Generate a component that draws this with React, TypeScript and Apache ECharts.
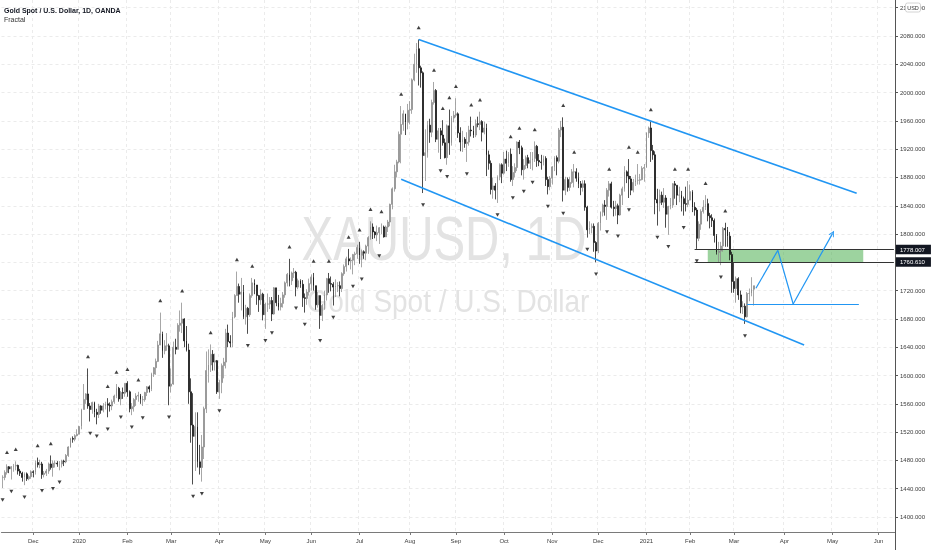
import React, { useEffect, useRef } from "react";
import * as echarts from "echarts";

// ---------- calendar (category axis) ----------
const FIRST_SESSION = [2019, 10, 12]; // 2019-11-12 (UTC y, m0, d)
const SESSION_COUNT = 408; // history + empty future sessions to ~mid June 2021
const HOLIDAYS = ["2019-12-25", "2020-01-01", "2020-04-10", "2020-12-25", "2021-01-01"];
const MONTHS = ["Jan", "Feb", "Mar", "Apr", "May", "Jun", "Jul", "Aug", "Sep", "Oct", "Nov", "Dec"];

// ---------- daily candles (open = previous close) ----------
const firstOpen = 1456;
const closes = [
  // Nov 2019
  1456, 1463, 1471, 1468, 1471, 1472, 1473, 1465, 1462, 1456, 1461, 1454, 1457, 1464,
  // Dec 2019
  1463, 1477, 1474, 1475, 1460, 1462, 1465, 1475, 1470, 1476, 1476, 1475, 1475, 1479, 1478, 1487, 1499, 1511, 1510, 1515, 1517,
  // Jan 2020
  1528, 1552, 1566, 1574, 1557, 1552, 1562, 1548, 1545, 1557, 1551, 1557, 1560, 1558, 1557, 1563, 1571, 1582, 1567, 1576, 1575, 1589,
  // Feb 2020
  1577, 1553, 1556, 1566, 1571, 1572, 1566, 1566, 1576, 1584, 1581, 1602, 1611, 1620, 1643, 1659, 1635, 1642, 1642, 1585,
  // Mar 2020
  1588, 1640, 1637, 1671, 1674, 1680, 1649, 1636, 1577, 1530, 1514, 1528, 1478, 1470, 1499, 1553, 1607, 1615, 1630, 1619, 1621, 1577,
  // Apr 2020
  1590, 1614, 1619, 1660, 1648, 1646, 1683, 1713, 1726, 1715, 1718, 1683, 1695, 1686, 1713, 1731, 1728, 1713, 1707, 1715, 1686,
  // May 2020
  1701, 1701, 1706, 1687, 1724, 1703, 1697, 1702, 1714, 1731, 1743, 1734, 1745, 1746, 1725, 1734, 1729, 1710, 1709, 1718, 1730,
  // Jun 2020
  1739, 1727, 1700, 1713, 1685, 1699, 1714, 1737, 1730, 1729, 1725, 1727, 1727, 1723, 1744, 1754, 1765, 1762, 1763, 1771, 1772, 1781,
  // Jul 2020
  1770, 1775, 1773, 1783, 1795, 1810, 1803, 1799, 1802, 1809, 1810, 1796, 1810, 1817, 1842, 1864, 1888, 1902, 1941, 1955, 1970, 1958, 1975,
  // Aug 2020
  1976, 2018, 2040, 2062, 2035, 2028, 1911, 1915, 1954, 1944, 1986, 2003, 1934, 1946, 1940, 1929, 1908, 1953, 1929, 1964, 1968,
  // Sep 2020
  1970, 1943, 1930, 1934, 1928, 1930, 1947, 1946, 1940, 1956, 1955, 1959, 1944, 1950, 1912, 1900, 1863, 1868, 1862, 1881, 1898, 1886,
  // Oct 2020
  1906, 1900, 1913, 1877, 1887, 1894, 1930, 1922, 1891, 1897, 1908, 1900, 1904, 1907, 1924, 1904, 1902, 1901, 1907, 1877, 1867, 1879,
  // Nov 2020
  1895, 1908, 1903, 1947, 1951, 1862, 1877, 1866, 1873, 1888, 1888, 1879, 1871, 1866, 1871, 1838, 1806, 1809, 1811, 1788, 1776,
  // Dec 2020
  1815, 1831, 1841, 1839, 1862, 1871, 1838, 1836, 1840, 1827, 1855, 1864, 1888, 1882, 1878, 1862, 1873, 1876, 1876, 1877, 1893, 1894,
  // Jan 2021
  1943, 1950, 1918, 1912, 1849, 1844, 1855, 1845, 1851, 1828, 1839, 1841, 1871, 1869, 1855, 1855, 1850, 1843, 1842, 1848,
  // Feb 2021
  1860, 1838, 1834, 1794, 1814, 1832, 1838, 1843, 1826, 1823, 1819, 1798, 1774, 1776, 1783, 1808, 1806, 1797, 1771, 1733,
  // Mar 2021
  1723, 1737, 1714, 1697, 1698, 1683, 1716, 1716, 1722, 1726.97,
];
const highs = [
  1459, 1466, 1474.5, 1472, 1472, 1475, 1478.7, 1474, 1468, 1464, 1463, 1463, 1459, 1466,
  1466, 1480, 1484, 1481, 1478, 1465, 1468, 1477, 1487, 1480, 1480, 1479, 1479, 1481, 1481, 1489, 1500, 1512, 1514, 1517, 1524,
  1529, 1553, 1588, 1575, 1610, 1561, 1563, 1563, 1553, 1560, 1558, 1561, 1563, 1568, 1562, 1566, 1573, 1588, 1584, 1578, 1583, 1589,
  1592, 1579, 1561, 1568, 1575, 1577, 1574, 1571, 1577, 1585, 1586, 1604, 1612, 1624, 1649, 1689, 1662, 1650, 1660, 1645,
  1610, 1648, 1652, 1674, 1692, 1703, 1681, 1670, 1645, 1596, 1575, 1548, 1548, 1502, 1516, 1556, 1634, 1637, 1644, 1636, 1631, 1622,
  1594, 1617, 1625, 1666, 1672, 1657, 1690, 1715, 1747, 1730, 1738, 1728, 1700, 1697, 1716, 1738, 1736, 1728, 1714, 1722, 1717,
  1703, 1716, 1711, 1711, 1725, 1722, 1714, 1710, 1718, 1733, 1745, 1765, 1747, 1752, 1748, 1737, 1736, 1735, 1716, 1722, 1737,
  1743, 1745, 1727, 1718, 1713, 1701, 1720, 1738, 1745, 1740, 1732, 1736, 1732, 1733, 1746, 1757, 1768, 1779, 1767, 1772, 1775, 1785,
  1789, 1778, 1777, 1785, 1797, 1818, 1815, 1804, 1812, 1810, 1815, 1812, 1812, 1820, 1843, 1866, 1898, 1905, 1945, 1981, 1975, 1970, 1984,
  1988, 2020, 2055, 2070, 2075, 2038, 2030, 1948, 1960, 1963, 1990, 2015, 2005, 1950, 1950, 1961, 1935, 1955, 1976, 1967, 1974,
  1992, 1972, 1951, 1946, 1937, 1944, 1953, 1966, 1953, 1962, 1966, 1973, 1961, 1959, 1956, 1918, 1904, 1880, 1872, 1883, 1900, 1900,
  1916, 1918, 1916, 1921, 1896, 1900, 1931, 1933, 1925, 1906, 1911, 1912, 1916, 1916, 1931, 1926, 1913, 1912, 1911, 1910, 1881, 1882,
  1896, 1910, 1911, 1950, 1960, 1965, 1881, 1880, 1881, 1892, 1899, 1893, 1887, 1875, 1876, 1876, 1840, 1818, 1815, 1815, 1790,
  1817, 1832, 1843, 1848, 1865, 1875, 1874, 1847, 1847, 1843, 1857, 1867, 1896, 1890, 1906, 1882, 1878, 1884, 1899, 1885, 1896, 1899,
  1944, 1952, 1959, 1926, 1917, 1864, 1863, 1860, 1865, 1855, 1840, 1851, 1872, 1875, 1869, 1867, 1861, 1853, 1867, 1875,
  1870, 1862, 1845, 1837, 1818, 1835, 1848, 1855, 1850, 1830, 1828, 1822, 1800, 1789, 1789, 1810, 1816, 1810, 1803, 1775,
  1760, 1740, 1739, 1720, 1705, 1702, 1718, 1723, 1739, 1727,
];
const lows = [
  1441, 1452, 1460, 1462, 1453, 1464, 1466, 1460, 1458, 1450, 1445, 1451, 1452, 1454,
  1456, 1460, 1470, 1469, 1454, 1456, 1458, 1461, 1467, 1457, 1470, 1471, 1466, 1470, 1472, 1476, 1485, 1498, 1505, 1507, 1514,
  1517, 1524, 1552, 1560, 1553, 1535, 1546, 1541, 1531, 1540, 1546, 1548, 1552, 1541, 1549, 1551, 1560, 1568, 1563, 1558, 1567, 1570,
  1570, 1548, 1544, 1549, 1557, 1563, 1560, 1557, 1563, 1571, 1576, 1578, 1598, 1601, 1619, 1644, 1625, 1630, 1635, 1558,
  1576, 1587, 1630, 1637, 1662, 1660, 1640, 1634, 1560, 1505, 1446, 1465, 1470, 1460, 1450, 1482, 1547, 1590, 1605, 1607, 1607, 1574,
  1567, 1575, 1596, 1610, 1640, 1640, 1640, 1681, 1713, 1703, 1692, 1680, 1672, 1659, 1683, 1710, 1715, 1700, 1690, 1700, 1678,
  1666, 1690, 1694, 1677, 1686, 1698, 1692, 1692, 1696, 1710, 1726, 1726, 1728, 1738, 1712, 1722, 1724, 1697, 1689, 1700, 1713,
  1720, 1720, 1693, 1696, 1666, 1677, 1693, 1706, 1717, 1719, 1699, 1711, 1718, 1712, 1718, 1741, 1747, 1756, 1750, 1743, 1756, 1765,
  1758, 1753, 1765, 1763, 1772, 1792, 1793, 1794, 1790, 1786, 1800, 1795, 1796, 1803, 1811, 1835, 1860, 1880, 1900, 1900, 1946, 1940, 1948,
  1955, 1970, 2016, 2028, 2010, 2007, 1858, 1875, 1908, 1929, 1937, 1983, 1930, 1915, 1906, 1925, 1907, 1898, 1912, 1925, 1958,
  1965, 1936, 1917, 1916, 1922, 1902, 1925, 1938, 1936, 1937, 1951, 1947, 1931, 1941, 1882, 1891, 1856, 1850, 1849, 1844, 1876, 1872,
  1884, 1889, 1895, 1874, 1868, 1880, 1889, 1913, 1883, 1877, 1892, 1893, 1892, 1890, 1902, 1895, 1896, 1891, 1897, 1868, 1856, 1862,
  1870, 1889, 1883, 1900, 1937, 1846, 1855, 1860, 1861, 1871, 1866, 1874, 1865, 1855, 1860, 1833, 1795, 1800, 1801, 1775, 1760,
  1773, 1805, 1825, 1826, 1820, 1853, 1836, 1825, 1826, 1814, 1826, 1841, 1860, 1872, 1851, 1855, 1859, 1868, 1870, 1870, 1876, 1874,
  1895, 1936, 1902, 1905, 1828, 1812, 1832, 1841, 1837, 1809, 1799, 1835, 1837, 1850, 1841, 1845, 1832, 1826, 1832, 1838,
  1848, 1831, 1826, 1779, 1790, 1806, 1829, 1834, 1818, 1808, 1810, 1788, 1771, 1760, 1756, 1775, 1782, 1782, 1763, 1717,
  1717, 1703, 1707, 1688, 1687, 1673, 1682, 1705, 1712, 1699,
];

// ---------- Williams fractal marks (bar indices) ----------
const upFractals = [2, 6, 16, 22, 39, 48, 52, 57, 62, 72, 82, 95, 107, 114, 131, 142, 149, 158, 163, 168, 173, 182, 190, 197, 201, 204, 207, 214, 218, 232, 236, 243, 256, 261, 277, 286, 290, 296, 307, 313, 321, 330];
const downFractals = [0, 4, 10, 18, 23, 26, 40, 43, 48, 54, 59, 64, 76, 87, 91, 99, 112, 120, 123, 134, 138, 145, 151, 160, 164, 172, 192, 200, 203, 212, 226, 233, 238, 242, 249, 256, 267, 271, 276, 281, 286, 299, 304, 311, 317, 328, 339];

// ---------- price axis ----------
const priceTicks = [1400, 1440, 1480, 1520, 1560, 1600, 1640, 1680, 1720, 1760, 1800, 1840, 1880, 1920, 1960, 2000, 2040, 2080, 2120];
const priceMin = 1378.8;
const priceMax = 2130.9;

// ---------- drawings [barIndex, price] ----------
const channelUpper = [[190, 2075], [390, 1857.6]];
const channelLower = [[182, 1877.4], [366, 1643.2]];
const zoneLevels = [1778.007, 1760.61];
const zoneBars = [322, 393];
const levelStartBar = 316;
const levelEndBar = 407;
const lastPrice = 1726.965;
const projectionPath = [[344, 1723.3], [354, 1777], [361, 1701.1], [379, 1801]];
const supportLine = [[340, 1701.1], [391, 1701.1]];

const FONT = "'Liberation Sans', Arial, sans-serif";
const BLUE = "#2196f3";
const ARROW = "path://M0,10 L5,0 L10,10 L8.4,10 L5,3.2 L1.6,10 Z";

export default function App() {
  const ref = useRef<HTMLDivElement>(null);

  useEffect(() => {
    if (!ref.current) return;
    const chart = echarts.init(ref.current, null, { renderer: "svg" });

    const sessions: string[] = [];
    const d = new Date(Date.UTC(FIRST_SESSION[0], FIRST_SESSION[1], FIRST_SESSION[2]));
    while (sessions.length < SESSION_COUNT) {
      const wd = d.getUTCDay();
      const iso = d.toISOString().slice(0, 10);
      if (wd !== 0 && wd !== 6 && HOLIDAYS.indexOf(iso) < 0) sessions.push(iso);
      d.setUTCDate(d.getUTCDate() + 1);
    }
    const monthStart = sessions.map((s, i) => i > 0 && s.slice(5, 7) !== sessions[i - 1].slice(5, 7));
    const isMonthStart = (i: number) => !!monthStart[i];

    const candles = closes.map((c, i) => {
      const o = i === 0 ? firstOpen : closes[i - 1];
      return [o, c, Math.min(lows[i], o, c), Math.max(highs[i], o, c)];
    });

    const projStyle = { color: BLUE, width: 1.2, type: "solid" };
    const chanStyle = { color: BLUE, width: 1.6, type: "solid" };
    const levelStyle = { color: "#333", width: 1, type: "solid" };
    const priceTag = (text: string) => ({
      show: true,
      position: "end",
      distance: 2,
      formatter: text,
      color: "#fff",
      backgroundColor: "#131722",
      padding: [2, 6, 1.5, 4],
      fontSize: 6,
      fontFamily: FONT,
    });

    const markLines: any[] = [
      [{ coord: channelUpper[0], lineStyle: chanStyle }, { coord: channelUpper[1] }],
      [{ coord: channelLower[0], lineStyle: chanStyle }, { coord: channelLower[1] }],
      [
        { coord: [levelStartBar, zoneLevels[0]], lineStyle: levelStyle, label: priceTag(zoneLevels[0].toFixed(3)) },
        { coord: [levelEndBar, zoneLevels[0]] },
      ],
      [
        { coord: [levelStartBar, zoneLevels[1]], lineStyle: levelStyle, label: priceTag(zoneLevels[1].toFixed(3)) },
        { coord: [levelEndBar, zoneLevels[1]] },
      ],
      [
        {
          coord: [343, lastPrice],
          lineStyle: { opacity: 0 },
          label: {
            show: true,
            position: "end",
            distance: 2,
            formatter: lastPrice.toFixed(3),
            color: "#333",
            backgroundColor: "#fff",
            padding: [1.5, 3, 1, 4],
            fontSize: 6,
            fontFamily: FONT,
          },
        },
        { coord: [levelEndBar, lastPrice] },
      ],
      [{ coord: projectionPath[0], lineStyle: projStyle }, { coord: projectionPath[1] }],
      [{ coord: projectionPath[1], lineStyle: projStyle }, { coord: projectionPath[2] }],
      [
        { coord: projectionPath[2], lineStyle: projStyle },
        { coord: projectionPath[3], symbol: ARROW, symbolSize: [6, 6] },
      ],
      [{ coord: supportLine[0], lineStyle: projStyle }, { coord: supportLine[1] }],
    ];

    const option: any = {
      animation: false,
      grid: { left: 1.5, right: 37, top: 0, bottom: 18, containLabel: false, outerBoundsMode: "none" },
      xAxis: {
        type: "category",
        data: sessions,
        boundaryGap: true,
        axisLine: { lineStyle: { color: "#7a7a7a", width: 1.2 } },
        axisTick: { show: true, interval: isMonthStart, alignWithLabel: true, length: 3, lineStyle: { color: "#7a7a7a" } },
        axisLabel: {
          interval: isMonthStart,
          margin: 6,
          fontSize: 6,
          fontFamily: FONT,
          color: "#3c3c3c",
          formatter: (v: string) => {
            const m = parseInt(v.slice(5, 7), 10) - 1;
            return m === 0 ? v.slice(0, 4) : MONTHS[m];
          },
        },
        splitLine: { show: true, interval: isMonthStart, lineStyle: { color: "#ebebeb", type: [3, 3] } },
      },
      yAxis: {
        type: "value",
        position: "right",
        min: priceMin,
        max: priceMax,
        axisLine: { show: true, lineStyle: { color: "#555", width: 1 } },
        axisTick: { show: true, length: 3, customValues: priceTicks, lineStyle: { color: "#555" } },
        axisLabel: {
          customValues: priceTicks,
          margin: 5,
          fontSize: 6,
          fontFamily: FONT,
          color: "#3c3c3c",
          formatter: (v: number) => v.toFixed(3),
        },
        splitLine: { show: true, lineStyle: { color: "#ebebeb", type: [3, 3] } },
      },
      graphic: [
        {
          type: "text", x: 444, y: 238, scaleX: 0.754, z: 1, silent: true,
          style: { text: "XAUUSD, 1D", fontSize: 63, fontFamily: FONT, fill: "#e3e3e3", align: "center", verticalAlign: "middle" },
        },
        {
          type: "text", x: 448, y: 301, scaleX: 0.874, z: 1, silent: true,
          style: { text: "Gold Spot / U.S. Dollar", fontSize: 32, fontFamily: FONT, fill: "#e3e3e3", align: "center", verticalAlign: "middle" },
        },
        {
          type: "text", x: 4, y: 10.8, z: 20,
          style: { text: "Gold Spot / U.S. Dollar, 1D, OANDA", fontSize: 7, fontWeight: "bold", fontFamily: FONT, fill: "#131722", verticalAlign: "middle" },
        },
        {
          type: "text", x: 4, y: 19.8, z: 20,
          style: { text: "Fractal", fontSize: 7, fontFamily: FONT, fill: "#333", verticalAlign: "middle" },
        },
        {
          type: "rect", z: 50, shape: { x: 905.5, y: 3, width: 15, height: 9, r: 2 },
          style: { fill: "#fff", stroke: "#c9c9c9", lineWidth: 0.8 },
        },
        {
          type: "text", x: 913, y: 7.6, z: 51,
          style: { text: "USD", fontSize: 5.5, fontFamily: FONT, fill: "#333", align: "center", verticalAlign: "middle" },
        },
        {
          type: "line", z: 50, shape: { x1: 895.5, y1: 532, x2: 895.5, y2: 550 },
          style: { stroke: "#555", lineWidth: 1 },
        },
      ],
      series: [
        {
          type: "candlestick",
          data: candles,
          barWidth: 1.35,
          itemStyle: {
            color: "#a2a2a2",
            borderColor: "#8a8a8a",
            color0: "#111111",
            borderColor0: "#111111",
            borderWidth: 0.75,
          },
          markArea: {
            silent: true,
            data: [
              [
                { coord: [zoneBars[0], zoneLevels[0]], itemStyle: { color: "rgba(76,175,80,0.55)" } },
                { coord: [zoneBars[1], zoneLevels[1]] },
              ],
            ],
          },
          markLine: {
            silent: true,
            symbol: ["none", "none"],
            label: { show: false },
            data: markLines,
          },
        },
        {
          type: "scatter",
          data: upFractals.map((i) => [i, highs[i]]),
          symbol: "triangle",
          symbolSize: [4, 3.5],
          symbolOffset: [0, -12],
          itemStyle: { color: "#111" },
          silent: true,
        },
        {
          type: "scatter",
          data: downFractals.map((i) => [i, lows[i]]),
          symbol: "triangle",
          symbolRotate: 180,
          symbolSize: [4, 3.5],
          symbolOffset: [0, 12],
          itemStyle: { color: "#111" },
          silent: true,
        },
      ],
    };

    chart.setOption(option);
    return () => chart.dispose();
  }, []);

  return <div ref={ref} style={{ position: "fixed", left: 0, top: 0, width: 932, height: 550 }} />;
}
